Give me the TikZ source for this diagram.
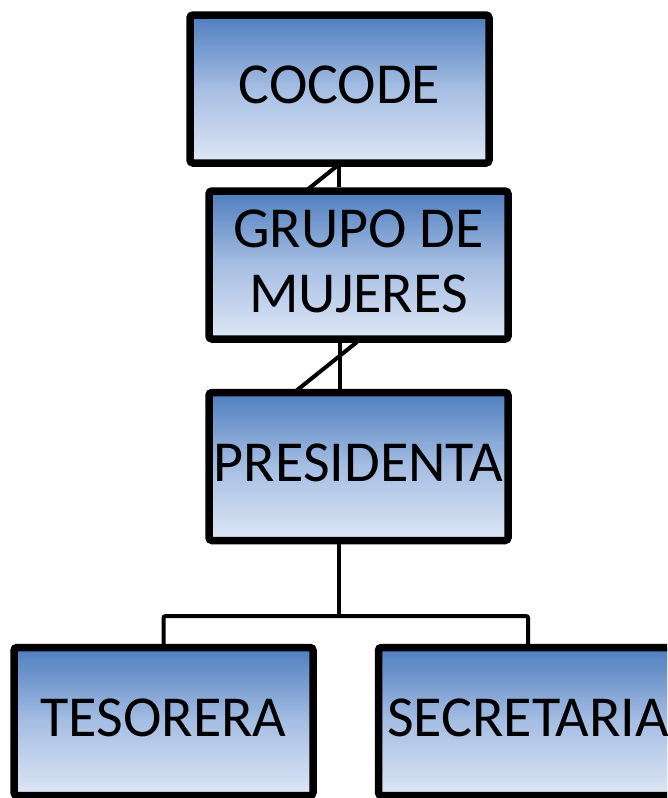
\documentclass[tikz,border=0pt]{standalone}
\usepackage{fontspec}
\setmainfont{Carlito}
\usetikzlibrary{shadows}
\definecolor{boxtop}{RGB}{78,126,190}
\definecolor{boxmid}{RGB}{166,190,227}
\definecolor{boxbot}{RGB}{222,231,245}
\begin{document}
\begin{tikzpicture}[x=1pt,y=-1pt,
  box/.style={draw=black, line width=7.5pt, rounded corners=3pt,
    minimum width=299pt, minimum height=148pt, inner sep=0pt,
    top color=boxtop, bottom color=boxbot, middle color=boxmid,
    drop shadow={shadow xshift=2pt, shadow yshift=-3pt, opacity=0.25, fill=black},
    font=\fontsize{58}{65}\selectfont, align=center, text depth=8pt},
  conn/.style={draw=black, line width=4pt, rounded corners=2pt}]
\useasboundingbox (0,0) rectangle (667,798);
\clip (0,0) rectangle (667,798);
\fill[white] (0,0) rectangle (667,798);
% connector helper points
\coordinate (d1a) at (307,190);
\coordinate (d1b) at (337,166);
\coordinate (d2a) at (296,391);
\coordinate (d2b) at (357,342);
\coordinate (v1) at (339,160);
\coordinate (v2) at (340,336);
\coordinate (j) at (339,616);
\coordinate (tl) at (163.5,616);
\coordinate (sr) at (528,616);
% boxes
\node[box] (cocode) at (339.5,89) {COCODE};
\node[box] (grupo) at (358.5,265) {GRUPO DE\\MUJERES};
\node[box] (pres) at (358.5,466.5) {PRESIDENTA};
\node[box] (tes) at (163.5,721.5) {TESORERA};
\node[box] (sec) at (528,721.5) {SECRETARIA};
% connectors
\draw[conn] (cocode.south -| v1) -- (grupo.north -| v1);
\draw[conn] (d1a) -- (d1b);
\draw[conn] (grupo.south -| v2) -- (pres.north -| v2);
\draw[conn] (d2a) -- (d2b);
\draw[conn] (pres.south -| j) -- (j);
\draw[conn] (tes.north) -- (tl) -- (sr) -- (sec.north);
\end{tikzpicture}
\end{document}
